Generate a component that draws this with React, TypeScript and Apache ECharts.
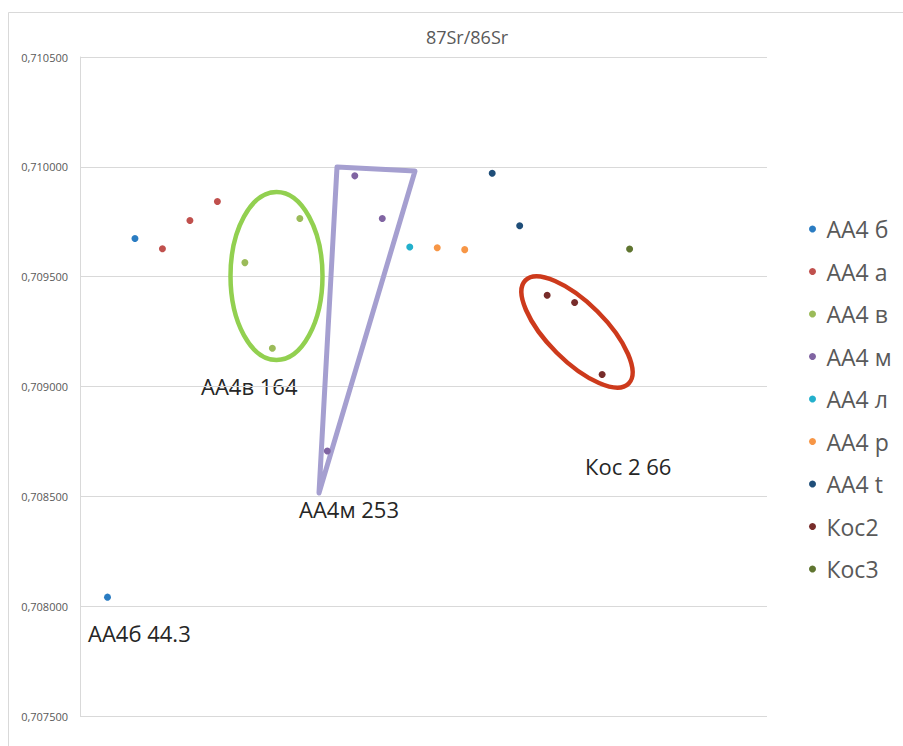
import React, { useEffect, useRef } from "react";
import * as echarts from "echarts";

const seriesNames = ["АА4 б", "АА4 а", "АА4 в", "АА4 м", "АА4 л", "АА4 р", "АА4 t", "Кос2", "Кос3"];
const seriesColors = ["#2a7cc2", "#c0504d", "#9bbb59", "#8064a2", "#23b0cc", "#f79646", "#1f4e79", "#772c2a", "#5f7530"];

// sample index (1..20) and 87Sr/86Sr value
const aa4b = [[1, 0.708041], [2, 0.709674]];
const aa4a = [[3, 0.709627], [4, 0.709756], [5, 0.709842]];
const aa4v = [[6, 0.709564], [7, 0.709174], [8, 0.709765]];
const aa4m = [[9, 0.708706], [10, 0.709959], [11, 0.709765]];
const aa4l = [[12, 0.709635]];
const aa4r = [[13, 0.709632], [14, 0.709623]];
const aa4t = [[15, 0.709971], [16, 0.709732]];
const kos2 = [[17, 0.709415], [18, 0.709382], [19, 0.709055]];
const kos3 = [[20, 0.709626]];
const seriesData = [aa4b, aa4a, aa4v, aa4m, aa4l, aa4r, aa4t, kos2, kos3];

const yMin = 0.7075;
const yMax = 0.7105;
const yStep = 0.0005;

export default function App() {
  const ref = useRef<HTMLDivElement>(null);
  useEffect(() => {
    if (!ref.current) return;
    const chart = echarts.init(ref.current, null, { renderer: "svg" });
    const labelFont = { fontFamily: "Open Sans", fontSize: 22, fill: "#262626" };
    chart.setOption({
      animation: false,
      backgroundColor: "#ffffff",
      grid: { left: 80, top: 57, right: 136, bottom: 30, containLabel: false },
      xAxis: { type: "value", min: 0, max: 25, show: false },
      yAxis: {
        type: "value",
        min: yMin,
        max: yMax,
        interval: yStep,
        axisLine: { show: true, lineStyle: { color: "#d9d9d9" } },
        axisTick: { show: false },
        splitLine: { lineStyle: { color: "#d9d9d9", width: 1 } },
        axisLabel: {
          color: "#595959",
          fontFamily: "Open Sans",
          fontSize: 11,
          margin: 12,
          formatter: (v: number) => v.toFixed(6).replace(".", ","),
        },
      },
      legend: {
        orient: "vertical",
        left: 804,
        top: 212,
        icon: "circle",
        itemWidth: 18,
        itemHeight: 7,
        itemGap: 18.5,
        textStyle: { color: "#595959", fontFamily: "Open Sans", fontSize: 23, lineHeight: 24 },
        data: seriesNames,
      },
      graphic: [
        { type: "rect", shape: { x: 8.5, y: 12.5, width: 920, height: 760 }, style: { fill: "none", stroke: "#d9d9d9", lineWidth: 1 }, silent: true },
        { type: "text", x: 467, y: 37, style: { text: "87Sr/86Sr", fill: "#595959", fontFamily: "Open Sans", fontSize: 18, align: "center", verticalAlign: "middle" } },
        { type: "ellipse", shape: { cx: 276.5, cy: 276, rx: 46, ry: 84 }, style: { fill: "none", stroke: "#92d050", lineWidth: 4.5 }, z: 1 },
        { type: "polygon", shape: { points: [[337, 167], [415, 171], [319, 493]] }, style: { fill: "none", stroke: "#a59fd0", lineWidth: 5, lineJoin: "round" }, z: 1 },
        { type: "ellipse", x: 577, y: 332, rotation: -Math.PI / 4, shape: { cx: 0, cy: 0, rx: 73, ry: 29 }, style: { fill: "none", stroke: "#cd3a1c", lineWidth: 4.5 }, z: 1 },
        { type: "text", x: 201, y: 386, style: { text: "АА4в 164", ...labelFont, verticalAlign: "middle" } },
        { type: "text", x: 299, y: 509, style: { text: "АА4м 253", ...labelFont, verticalAlign: "middle" } },
        { type: "text", x: 585, y: 466, style: { text: "Кос 2 66", ...labelFont, verticalAlign: "middle" } },
        { type: "text", x: 88, y: 633, style: { text: "АА4б 44.3", ...labelFont, verticalAlign: "middle" } },
      ],
      series: seriesNames.map((name, i) => ({
        name,
        type: "scatter",
        data: seriesData[i],
        symbol: "circle",
        symbolSize: 7,
        itemStyle: { color: seriesColors[i], opacity: 1 },
        z: 3,
      })),
    });
    return () => chart.dispose();
  }, []);
  return <div ref={ref} style={{ position: "absolute", left: 0, top: 0, width: 903, height: 746 }} />;
}
